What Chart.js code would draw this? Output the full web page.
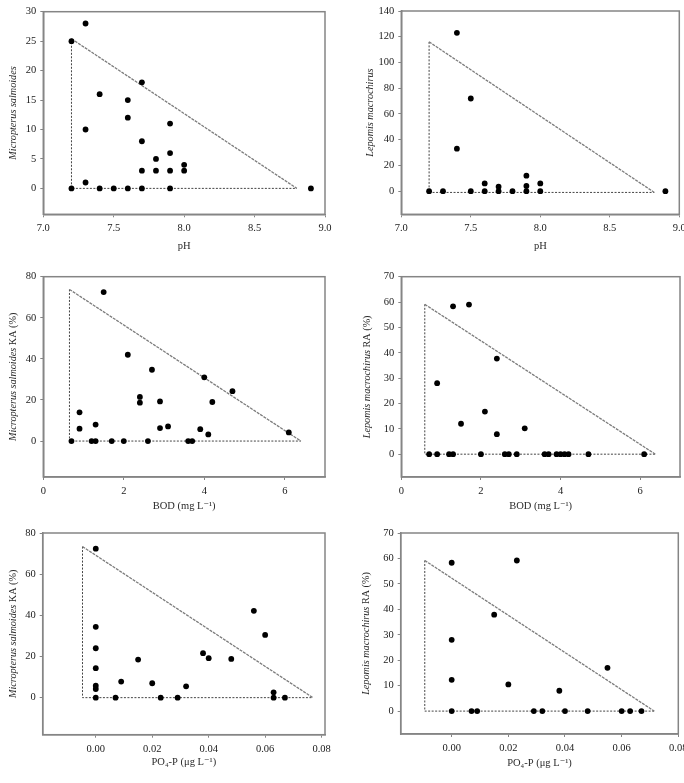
<!DOCTYPE html>
<html>
<head>
<meta charset="utf-8">
<script src="https://cdn.jsdelivr.net/npm/chart.js@4.4.1/dist/chart.umd.min.js"></script>
<style>
html, body { margin: 0; padding: 0; background: #fff; width: 684px; height: 783px; overflow: hidden; position: relative; }
canvas { position: absolute; }
</style>
</head>
<body>
<canvas id="c1"></canvas>
<canvas id="c2"></canvas>
<canvas id="c3"></canvas>
<canvas id="c4"></canvas>
<canvas id="c5"></canvas>
<canvas id="c6"></canvas>
<script>
// pH vs Micropterus salmoides
const phMs = [7.2, 7.3, 7.3, 7.3, 7.2, 7.4, 7.4, 7.5, 7.6, 7.6, 7.6, 7.7, 7.7, 7.7, 7.7, 7.8, 7.8, 7.9, 7.9, 7.9, 7.9, 8.0, 8.0, 8.9];
const msCount = [25, 28, 10, 1, 0, 16, 0, 0, 15, 12, 0, 18, 8, 3, 0, 5, 3, 11, 6, 3, 0, 4, 3, 0];
const triPhMsX = [7.2, 8.8, 7.2];
const triPhMsY = [25.4, 0, 0];

// pH vs Lepomis macrochirus
const phLm = [7.2, 7.3, 7.4, 7.4, 7.5, 7.5, 7.6, 7.6, 7.7, 7.7, 7.8, 7.9, 7.9, 7.9, 8.0, 8.0, 8.9];
const lmCount = [0, 0, 123, 33, 72, 0, 6, 0, 3.5, 0, 0, 12, 4, 0, 6, 0, 0];
const triPhLmX = [7.2, 8.82, 7.2];
const triPhLmY = [116, -1, -1];

// BOD vs Micropterus salmoides KA
const bodMs = [0.7, 0.9, 0.9, 1.2, 1.3, 1.3, 1.5, 1.7, 2.0, 2.1, 2.4, 2.4, 2.6, 2.7, 2.9, 2.9, 3.1, 3.6, 3.7, 3.9, 4.0, 4.1, 4.2, 4.7, 6.1];
const msKaBod = [0, 14, 6, 0, 0, 8, 72.5, 0, 0, 42, 21.5, 18.7, 0, 34.7, 19.3, 6.3, 7.1, 0, 0, 5.8, 31, 3.2, 19, 24.3, 4.2];
const triBodMsX = [0.65, 6.4, 0.65];
const triBodMsY = [73.8, 0, 0];

// BOD vs Lepomis macrochirus RA
const bodLm = [0.7, 0.9, 0.9, 1.2, 1.3, 1.3, 1.5, 1.7, 2.0, 2.1, 2.4, 2.4, 2.6, 2.7, 2.9, 3.1, 3.6, 3.7, 3.9, 4.0, 4.1, 4.2, 4.7, 6.1];
const lmRaBod = [0, 28, 0, 0, 58.3, 0, 12, 59, 0, 16.8, 37.7, 7.9, 0, 0, 0, 10.2, 0, 0, 0, 0, 0, 0, 0, 0];
const triBodLmX = [0.59, 6.38, 0.59];
const triBodLmY = [59.1, 0, 0];

// PO4-P vs Micropterus salmoides KA
const po4Ms = [0, 0, 0, 0, 0, 0, 0, 0.007, 0.009, 0.015, 0.02, 0.023, 0.029, 0.032, 0.038, 0.04, 0.048, 0.056, 0.06, 0.063, 0.063, 0.067];
const msKaPo4 = [72.4, 34.4, 24, 14.3, 5.8, 4.2, 0, 0, 7.8, 18.5, 7, 0, 0, 5.5, 21.6, 19.2, 18.8, 42.2, 30.5, 2.6, 0, 0];
const triPo4MsX = [-0.0047, 0.0769, -0.0047];
const triPo4MsY = [73.4, 0, 0];

// PO4-P vs Lepomis macrochirus RA
const po4Lm = [0, 0, 0, 0, 0.007, 0.009, 0.015, 0.02, 0.023, 0.029, 0.032, 0.038, 0.04, 0.048, 0.055, 0.06, 0.063, 0.067];
const lmRaPo4 = [58.3, 28, 12.3, 0, 0, 0, 37.9, 10.5, 59.2, 0, 0, 8, 0, 0, 17, 0, 0, 0];
const triPo4LmX = [-0.0095, 0.0715, -0.0095];
const triPo4LmY = [59.2, 0, 0];

// tick labels
const phTicks = [7.0, 7.5, 8.0, 8.5, 9.0];
const bodTicks = [0, 2, 4, 6];
const po4Ticks = [0, 0.02, 0.04, 0.06, 0.08];
const msCountTicks = [0, 5, 10, 15, 20, 25, 30];
const lmCountTicks = [0, 20, 40, 60, 80, 100, 120, 140];
const kaTicks = [0, 20, 40, 60, 80];
const raTicks = [0, 10, 20, 30, 40, 50, 60, 70];

const FONT = '"Liberation Serif", "DejaVu Serif", serif';
const AXIS = '#858585';

// 外框 (top/right included)
const framePlugin = {
    id: 'frame',
    afterDraw(chart) {
        const { ctx, chartArea: a } = chart;
        ctx.save();
        ctx.strokeStyle = AXIS;
        ctx.lineWidth = 1.5;
        ctx.strokeRect(a.left, a.top, a.right - a.left, a.bottom - a.top);
        ctx.restore();
    }
};

// y title with italic species name + upright suffix
const yTitlePlugin = {
    id: 'yTitle',
    afterDraw(chart, args, opts) {
        const { ctx, chartArea: a } = chart;
        ctx.save();
        ctx.translate(a.left - opts.gap, (a.top + a.bottom) / 2);
        ctx.rotate(-Math.PI / 2);
        ctx.textBaseline = 'middle';
        ctx.textAlign = 'left';
        ctx.fillStyle = '#2a2a2a';
        const fonts = opts.parts.map(p => (p[1] ? 'italic ' : '') + '10.2px ' + FONT);
        let total = 0;
        const widths = opts.parts.map((p, i) => { ctx.font = fonts[i]; const w = ctx.measureText(p[0]).width; total += w; return w; });
        let x = -total / 2;
        opts.parts.forEach((p, i) => { ctx.font = fonts[i]; ctx.fillText(p[0], x, 0); x += widths[i]; });
        ctx.restore();
    }
};

const zip = (xs, ys) => xs.map((x, i) => ({ x, y: ys[i] }));

function makePanel(p) {
    const canvas = document.getElementById(p.id);
    const [cx, cy, cw, ch] = p.box;
    const [L, T, R, B] = p.area;
    canvas.width = cw; canvas.height = ch;
    canvas.style.left = cx + 'px'; canvas.style.top = cy + 'px';
    const xH = cy + ch - B;
    const tri = zip(p.triX, p.triY);
    return new Chart(canvas, {
        type: 'scatter',
        data: {
            datasets: [
                { data: zip(p.xs, p.ys), pointRadius: 2.9, pointBackgroundColor: '#000', pointBorderWidth: 0, showLine: false },
                { data: [tri[0], tri[1]], showLine: true, borderColor: '#7c7c7c', borderWidth: 1.3, borderDash: [3, 1], pointRadius: 0 },
                { data: [tri[0], tri[2], tri[1]], showLine: true, borderColor: '#444', borderWidth: 1, borderDash: [2, 1.5], pointRadius: 0 }
            ]
        },
        options: {
            responsive: false,
            animation: false,
            layout: { padding: { left: 0, top: T - cy, right: cx + cw - R, bottom: 0 } },
            plugins: {
                legend: { display: false },
                tooltip: { enabled: false },
                yTitle: { parts: p.yTitle, gap: p.yGap }
            },
            scales: {
                x: {
                    type: 'linear', min: p.xMin, max: p.xMax,
                    afterBuildTicks: s => { s.ticks = p.xTicks.map(v => ({ value: v })); },
                    afterFit: s => { s.height = xH; },
                    ticks: { font: { family: FONT, size: 10.5 }, color: '#1a1a1a', padding: 5, maxRotation: 0,
                        callback: v => p.xDigits == null ? String(v) : Number(v).toFixed(p.xDigits) },
                    grid: { drawOnChartArea: false, tickLength: 3, color: AXIS },
                    border: { color: AXIS, width: 1.5 },
                    title: { display: true, text: p.xTitle, color: '#2a2a2a', font: { family: FONT, size: 10.5 },
                        padding: { top: 0, bottom: xH - p.xTitleOff - 6.3 } }
                },
                y: {
                    type: 'linear', min: p.yMin, max: p.yMax,
                    afterBuildTicks: s => { s.ticks = p.yTicks.map(v => ({ value: v })); },
                    afterFit: s => { s.width = L - cx; },
                    ticks: { font: { family: FONT, size: 10.5 }, color: '#1a1a1a', padding: 4 },
                    grid: { drawOnChartArea: false, tickLength: 3, color: AXIS },
                    border: { color: AXIS, width: 1.5 }
                }
            }
        },
        plugins: [framePlugin, yTitlePlugin]
    });
}

const ms = 'Micropterus salmoides';
const lm = 'Lepomis macrochirus';

makePanel({ id: 'c1', box: [0, 0, 342, 261], area: [43.3, 11.7, 325, 214.3],
    xs: phMs, ys: msCount, triX: triPhMsX, triY: triPhMsY,
    xMin: 7, xMax: 9, yMin: -4.4, yMax: 30, xTicks: phTicks, yTicks: msCountTicks, xDigits: 1,
    xTitle: 'pH', xTitleOff: 31.7, yTitle: [[ms, true]], yGap: 30 });

makePanel({ id: 'c2', box: [342, 0, 360, 261], area: [401.3, 11, 679.3, 214.3],
    xs: phLm, ys: lmCount, triX: triPhLmX, triY: triPhLmY,
    xMin: 7, xMax: 9, yMin: -18, yMax: 140, xTicks: phTicks, yTicks: lmCountTicks, xDigits: 1,
    xTitle: 'pH', xTitleOff: 31.7, yTitle: [[lm, true]], yGap: 31 });

makePanel({ id: 'c3', box: [0, 261, 342, 261], area: [43.3, 276.7, 325, 477],
    xs: bodMs, ys: msKaBod, triX: triBodMsX, triY: triBodMsY,
    xMin: 0, xMax: 7, yMin: -17.5, yMax: 80, xTicks: bodTicks, yTicks: kaTicks, xDigits: null,
    xTitle: 'BOD (mg L\u207B\u00B9)', xTitleOff: 29, yTitle: [[ms, true], [' KA (%)', false]], yGap: 30 });

makePanel({ id: 'c4', box: [342, 261, 360, 261], area: [401.3, 276.7, 680, 477],
    xs: bodLm, ys: lmRaBod, triX: triBodLmX, triY: triBodLmY,
    xMin: 0, xMax: 7, yMin: -9, yMax: 70, xTicks: bodTicks, yTicks: raTicks, xDigits: null,
    xTitle: 'BOD (mg L\u207B\u00B9)', xTitleOff: 29, yTitle: [[lm, true], [' RA (%)', false]], yGap: 34 });

makePanel({ id: 'c5', box: [0, 522, 342, 261], area: [42.7, 533, 325, 734.7],
    xs: po4Ms, ys: msKaPo4, triX: triPo4MsX, triY: triPo4MsY,
    xMin: -0.0188, xMax: 0.0812, yMin: -18, yMax: 80, xTicks: po4Ticks, yTicks: kaTicks, xDigits: 2,
    xTitle: 'PO\u2084-P (\u03BCg L\u207B\u00B9)', xTitleOff: 28, yTitle: [[ms, true], [' KA (%)', false]], yGap: 29.4 });

makePanel({ id: 'c6', box: [342, 522, 360, 261], area: [400.7, 533, 678.3, 734],
    xs: po4Lm, ys: lmRaPo4, triX: triPo4LmX, triY: triPo4LmY,
    xMin: -0.018, xMax: 0.08, yMin: -9, yMax: 70, xTicks: po4Ticks, yTicks: raTicks, xDigits: 2,
    xTitle: 'PO\u2084-P (\u03BCg L\u207B\u00B9)', xTitleOff: 29.3, yTitle: [[lm, true], [' RA (%)', false]], yGap: 34 });
</script>
</body>
</html>
